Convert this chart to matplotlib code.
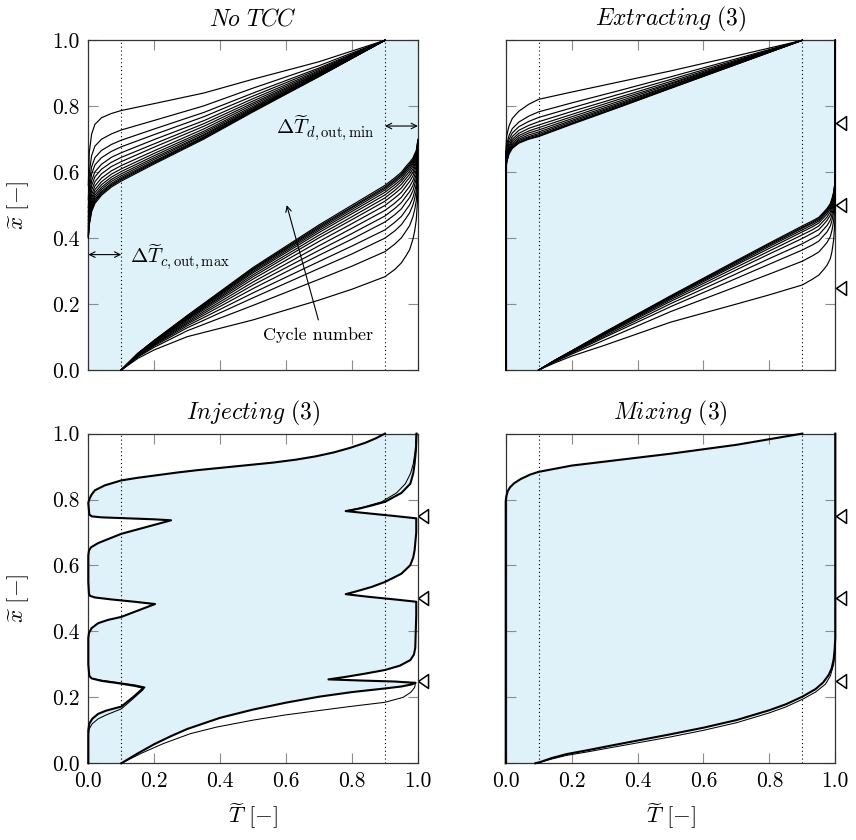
import numpy as np
import matplotlib
matplotlib.use("Agg")
import matplotlib.pyplot as plt

matplotlib.rcParams["font.family"] = "serif"
matplotlib.rcParams["font.serif"] = ["cmr10"]
matplotlib.rcParams["mathtext.fontset"] = "cm"
matplotlib.rcParams["axes.formatter.use_mathtext"] = True
matplotlib.rcParams["font.size"] = 15.5

fill_color = "#dff1f9"
ticks = [0.0, 0.2, 0.4, 0.6, 0.8, 1.0]
tick_labels = ["0.0", "0.2", "0.4", "0.6", "0.8", "1.0"]
titles = [r"$\mathit{No\ TCC}$", r"$\mathit{Extracting\ (3)}$",
          r"$\mathit{Injecting\ (3)}$", r"$\mathit{Mixing\ (3)}$"]
port_positions = [0.25, 0.5, 0.75]

# ---- No TCC: discharge profiles x(T), one row per cycle (first -> last)
notcc_up_T = [0.0, 0.003, 0.01, 0.02, 0.04, 0.07, 0.1, 0.2, 0.35, 0.5, 0.7, 0.9]
notcc_up_x = [
    [0.560, 0.660, 0.715, 0.745, 0.765, 0.778, 0.787, 0.808, 0.840, 0.882, 0.935, 1.0],
    [0.516, 0.599, 0.650, 0.679, 0.700, 0.716, 0.728, 0.757, 0.801, 0.855, 0.923, 1.0],
    [0.493, 0.567, 0.616, 0.644, 0.666, 0.684, 0.697, 0.731, 0.781, 0.840, 0.916, 1.0],
    [0.478, 0.547, 0.594, 0.622, 0.644, 0.663, 0.677, 0.714, 0.768, 0.831, 0.912, 1.0],
    [0.464, 0.528, 0.574, 0.601, 0.624, 0.645, 0.659, 0.699, 0.756, 0.823, 0.908, 1.0],
    [0.454, 0.514, 0.559, 0.586, 0.609, 0.630, 0.645, 0.686, 0.747, 0.816, 0.905, 1.0],
    [0.444, 0.501, 0.545, 0.571, 0.595, 0.617, 0.632, 0.676, 0.739, 0.810, 0.902, 1.0],
    [0.435, 0.488, 0.532, 0.558, 0.582, 0.604, 0.620, 0.665, 0.731, 0.805, 0.900, 1.0],
    [0.428, 0.478, 0.521, 0.547, 0.571, 0.594, 0.610, 0.657, 0.724, 0.800, 0.898, 1.0],
    [0.422, 0.470, 0.512, 0.538, 0.562, 0.585, 0.602, 0.650, 0.719, 0.796, 0.896, 1.0],
    [0.416, 0.463, 0.504, 0.530, 0.554, 0.578, 0.595, 0.644, 0.714, 0.793, 0.895, 1.0],
    [0.412, 0.457, 0.498, 0.523, 0.548, 0.572, 0.589, 0.639, 0.711, 0.790, 0.893, 1.0],
    [0.408, 0.451, 0.492, 0.517, 0.542, 0.566, 0.584, 0.634, 0.707, 0.788, 0.892, 1.0],
    [0.405, 0.447, 0.488, 0.513, 0.538, 0.562, 0.580, 0.631, 0.705, 0.786, 0.891, 1.0],
    [0.403, 0.444, 0.484, 0.510, 0.534, 0.559, 0.577, 0.628, 0.703, 0.785, 0.891, 1.0],
    [0.400, 0.440, 0.480, 0.505, 0.530, 0.555, 0.573, 0.625, 0.700, 0.783, 0.890, 1.0],
]
# charge profiles
notcc_low_T = [0.1, 0.15, 0.2, 0.3, 0.5, 0.7, 0.8, 0.9, 0.93, 0.95, 0.965, 0.975,
               0.985, 0.99, 0.995, 0.998, 1.0]
notcc_low_x = [
    [0.0, 0.035, 0.061, 0.101, 0.152, 0.212, 0.245, 0.283, 0.305, 0.325, 0.348, 0.365, 0.397, 0.420, 0.455, 0.500, 0.560],
    [0.0, 0.039, 0.069, 0.119, 0.196, 0.275, 0.315, 0.359, 0.382, 0.401, 0.423, 0.438, 0.465, 0.485, 0.513, 0.551, 0.599],
    [0.0, 0.041, 0.073, 0.128, 0.219, 0.308, 0.352, 0.400, 0.422, 0.441, 0.462, 0.477, 0.501, 0.519, 0.543, 0.578, 0.619],
    [0.0, 0.043, 0.076, 0.134, 0.234, 0.329, 0.376, 0.425, 0.448, 0.466, 0.487, 0.501, 0.523, 0.541, 0.563, 0.595, 0.632],
    [0.0, 0.044, 0.078, 0.139, 0.247, 0.348, 0.397, 0.449, 0.471, 0.489, 0.510, 0.523, 0.544, 0.561, 0.581, 0.611, 0.644],
    [0.0, 0.045, 0.080, 0.143, 0.258, 0.363, 0.414, 0.467, 0.490, 0.508, 0.528, 0.541, 0.560, 0.576, 0.594, 0.623, 0.653],
    [0.0, 0.046, 0.082, 0.147, 0.267, 0.377, 0.430, 0.484, 0.506, 0.524, 0.544, 0.557, 0.575, 0.590, 0.607, 0.634, 0.661],
    [0.0, 0.047, 0.084, 0.151, 0.276, 0.390, 0.444, 0.499, 0.522, 0.539, 0.559, 0.572, 0.589, 0.603, 0.619, 0.644, 0.669],
    [0.0, 0.047, 0.085, 0.154, 0.283, 0.401, 0.456, 0.512, 0.535, 0.552, 0.572, 0.584, 0.600, 0.614, 0.629, 0.653, 0.676],
    [0.0, 0.048, 0.086, 0.156, 0.289, 0.409, 0.465, 0.522, 0.545, 0.563, 0.582, 0.594, 0.610, 0.623, 0.636, 0.660, 0.681],
    [0.0, 0.048, 0.087, 0.158, 0.295, 0.417, 0.474, 0.531, 0.554, 0.572, 0.591, 0.603, 0.618, 0.631, 0.643, 0.666, 0.686],
    [0.0, 0.049, 0.088, 0.160, 0.299, 0.423, 0.481, 0.539, 0.562, 0.579, 0.599, 0.610, 0.625, 0.637, 0.649, 0.671, 0.689],
    [0.0, 0.049, 0.089, 0.162, 0.303, 0.428, 0.487, 0.546, 0.569, 0.586, 0.605, 0.616, 0.630, 0.643, 0.654, 0.676, 0.693],
    [0.0, 0.050, 0.089, 0.163, 0.306, 0.432, 0.492, 0.551, 0.574, 0.591, 0.610, 0.621, 0.635, 0.647, 0.658, 0.679, 0.695],
    [0.0, 0.050, 0.089, 0.164, 0.308, 0.436, 0.495, 0.555, 0.578, 0.595, 0.614, 0.625, 0.638, 0.651, 0.661, 0.681, 0.697],
    [0.0, 0.050, 0.090, 0.165, 0.311, 0.440, 0.500, 0.560, 0.583, 0.600, 0.619, 0.630, 0.643, 0.655, 0.665, 0.685, 0.700],
]

# ---- Extracting (3)
extr_up_T = [0.0, 0.0, 0.003, 0.01, 0.02, 0.04, 0.07, 0.1, 0.2, 0.35, 0.5, 0.7, 0.9]
extr_up_x = [
    [0.0, 0.660, 0.710, 0.740, 0.763, 0.785, 0.806, 0.821, 0.843, 0.875, 0.907, 0.953, 1.0],
    [0.0, 0.640, 0.683, 0.711, 0.732, 0.752, 0.770, 0.783, 0.810, 0.849, 0.889, 0.944, 1.0],
    [0.0, 0.631, 0.671, 0.699, 0.719, 0.738, 0.754, 0.766, 0.795, 0.838, 0.881, 0.940, 1.0],
    [0.0, 0.624, 0.662, 0.689, 0.708, 0.727, 0.742, 0.753, 0.784, 0.829, 0.875, 0.937, 1.0],
    [0.0, 0.619, 0.655, 0.681, 0.700, 0.718, 0.733, 0.743, 0.775, 0.823, 0.870, 0.935, 1.0],
    [0.0, 0.614, 0.649, 0.675, 0.694, 0.711, 0.725, 0.735, 0.768, 0.817, 0.867, 0.933, 1.0],
    [0.0, 0.611, 0.644, 0.670, 0.688, 0.705, 0.719, 0.728, 0.762, 0.812, 0.863, 0.932, 1.0],
    [0.0, 0.607, 0.640, 0.666, 0.683, 0.700, 0.713, 0.722, 0.757, 0.808, 0.861, 0.930, 1.0],
    [0.0, 0.605, 0.636, 0.662, 0.679, 0.696, 0.708, 0.717, 0.753, 0.805, 0.858, 0.929, 1.0],
    [0.0, 0.603, 0.634, 0.659, 0.676, 0.692, 0.705, 0.713, 0.749, 0.802, 0.856, 0.928, 1.0],
    [0.0, 0.601, 0.631, 0.657, 0.674, 0.690, 0.702, 0.710, 0.747, 0.800, 0.855, 0.927, 1.0],
    [0.0, 0.600, 0.630, 0.655, 0.672, 0.688, 0.700, 0.708, 0.745, 0.799, 0.854, 0.927, 1.0],
]
extr_low_T = [0.1, 0.15, 0.2, 0.3, 0.5, 0.7, 0.8, 0.9, 0.93, 0.95, 0.965, 0.975,
              0.985, 0.99, 0.995, 0.998, 1.0, 1.0]
extr_low_x = [
    [0.0, 0.022, 0.042, 0.075, 0.145, 0.200, 0.228, 0.258, 0.275, 0.288, 0.305, 0.318, 0.338, 0.360, 0.395, 0.440, 0.490, 1.0],
    [0.0, 0.025, 0.048, 0.091, 0.177, 0.253, 0.291, 0.330, 0.346, 0.358, 0.375, 0.387, 0.405, 0.424, 0.453, 0.489, 0.530, 1.0],
    [0.0, 0.027, 0.051, 0.099, 0.192, 0.278, 0.321, 0.364, 0.379, 0.391, 0.408, 0.419, 0.437, 0.454, 0.481, 0.512, 0.549, 1.0],
    [0.0, 0.028, 0.053, 0.103, 0.201, 0.292, 0.338, 0.383, 0.399, 0.410, 0.427, 0.438, 0.455, 0.472, 0.497, 0.525, 0.560, 1.0],
    [0.0, 0.028, 0.055, 0.107, 0.208, 0.304, 0.352, 0.399, 0.415, 0.426, 0.442, 0.454, 0.470, 0.486, 0.510, 0.536, 0.569, 1.0],
    [0.0, 0.029, 0.056, 0.109, 0.213, 0.312, 0.361, 0.410, 0.425, 0.437, 0.453, 0.464, 0.480, 0.496, 0.518, 0.544, 0.575, 1.0],
    [0.0, 0.029, 0.056, 0.111, 0.217, 0.319, 0.369, 0.419, 0.434, 0.446, 0.462, 0.473, 0.488, 0.504, 0.526, 0.550, 0.580, 1.0],
    [0.0, 0.030, 0.057, 0.112, 0.220, 0.323, 0.375, 0.425, 0.440, 0.452, 0.468, 0.479, 0.494, 0.510, 0.531, 0.554, 0.583, 1.0],
    [0.0, 0.030, 0.057, 0.113, 0.222, 0.327, 0.379, 0.430, 0.445, 0.456, 0.472, 0.483, 0.498, 0.514, 0.534, 0.557, 0.586, 1.0],
    [0.0, 0.030, 0.058, 0.114, 0.223, 0.329, 0.382, 0.433, 0.448, 0.460, 0.476, 0.487, 0.502, 0.517, 0.537, 0.560, 0.588, 1.0],
    [0.0, 0.030, 0.058, 0.115, 0.225, 0.332, 0.385, 0.437, 0.452, 0.463, 0.479, 0.490, 0.505, 0.520, 0.540, 0.562, 0.590, 1.0],
]

# ---- Injecting (3): (x, T) points, converged cycle and first cycle
inj_up = [
    (0.000, 0.000), (0.100, 0.000), (0.120, 0.003), (0.135, 0.012), (0.150, 0.030),
    (0.160, 0.055), (0.172, 0.100), (0.200, 0.135), (0.222, 0.160), (0.229, 0.167),
    (0.235, 0.140), (0.243, 0.090), (0.250, 0.040), (0.2575, 0.010), (0.265, 0.003),
    (0.300, 0.000), (0.380, 0.000), (0.395, 0.002), (0.410, 0.010), (0.425, 0.030),
    (0.435, 0.060), (0.444, 0.100), (0.465, 0.155), (0.483, 0.2025), (0.490, 0.140),
    (0.497, 0.070), (0.503, 0.020), (0.508, 0.005), (0.515, 0.002), (0.550, 0.000),
    (0.630, 0.000), (0.645, 0.002), (0.655, 0.008), (0.668, 0.030), (0.680, 0.060),
    (0.696, 0.100), (0.715, 0.170), (0.737, 0.251), (0.740, 0.200), (0.743, 0.120),
    (0.746, 0.040), (0.749, 0.010), (0.755, 0.003), (0.790, 0.000), (0.803, 0.004),
    (0.815, 0.010), (0.828, 0.020), (0.843, 0.050), (0.858, 0.100), (0.866, 0.150),
    (0.874, 0.210), (0.882, 0.270), (0.889, 0.330), (0.896, 0.400), (0.904, 0.480),
    (0.912, 0.560), (0.921, 0.630), (0.931, 0.690), (0.943, 0.745), (0.957, 0.795),
    (0.972, 0.840), (0.986, 0.873), (1.000, 0.900),
]
inj_up_first = [
    (0.000, 0.000), (0.085, 0.000), (0.105, 0.003), (0.120, 0.012), (0.135, 0.030),
    (0.147, 0.055), (0.165, 0.100), (0.195, 0.135), (0.222, 0.165), (0.231, 0.172),
    (0.237, 0.145), (0.245, 0.090), (0.252, 0.040), (0.2575, 0.010),
]
inj_low = [
    (0.000, 0.100), (0.030, 0.150), (0.058, 0.200), (0.082, 0.250), (0.104, 0.300),
    (0.138, 0.400), (0.163, 0.500), (0.184, 0.600), (0.202, 0.700), (0.216, 0.800),
    (0.227, 0.900), (0.233, 0.950), (0.239, 0.980), (0.244, 0.993), (0.248, 0.930),
    (0.251, 0.830), (0.2545, 0.7286), (0.262, 0.780), (0.272, 0.840), (0.283, 0.900),
    (0.296, 0.945), (0.313, 0.977), (0.330, 0.988), (0.350, 0.992), (0.450, 0.995),
    (0.490, 0.995), (0.497, 0.930), (0.505, 0.850), (0.513, 0.781), (0.522, 0.815),
    (0.535, 0.860), (0.550, 0.900), (0.575, 0.950), (0.601, 0.977), (0.625, 0.986),
    (0.646, 0.990), (0.700, 0.995), (0.743, 0.995), (0.750, 0.930), (0.757, 0.860),
    (0.765, 0.781), (0.772, 0.820), (0.782, 0.860), (0.793, 0.900), (0.820, 0.950),
    (0.848, 0.977), (0.880, 0.986), (0.909, 0.990), (0.950, 0.994), (1.000, 0.996),
]
inj_low_first = [
    (0.000, 0.100), (0.030, 0.160), (0.060, 0.228), (0.090, 0.310), (0.110, 0.390),
    (0.131, 0.500), (0.147, 0.600), (0.160, 0.700), (0.173, 0.800), (0.185, 0.900),
    (0.200, 0.955), (0.215, 0.978), (0.230, 0.990), (0.245, 0.993),
]
inj_low_first_top = [
    (0.765, 0.781), (0.777, 0.835), (0.793, 0.890), (0.820, 0.935), (0.848, 0.962),
    (0.880, 0.978), (0.909, 0.986), (0.950, 0.992), (1.000, 0.995),
]

# ---- Mixing (3): (T, x) points
mix_up_T = [0.0, 0.0, 0.002, 0.006, 0.013, 0.025, 0.045, 0.075, 0.1, 0.2, 0.35, 0.5, 0.7, 0.9]
mix_up_x = [0.0, 0.795, 0.810, 0.825, 0.837, 0.849, 0.862, 0.876, 0.884, 0.903, 0.921, 0.939, 0.966, 1.0]
mix_low_T = [0.09, 0.105, 0.14, 0.185, 0.25, 0.316, 0.4, 0.5, 0.6, 0.7, 0.8, 0.85, 0.9,
             0.94, 0.963, 0.98, 0.989, 0.995, 0.998, 1.0, 1.0]
mix_low_x = [0.0, 0.004, 0.016, 0.028, 0.040, 0.053, 0.069, 0.088, 0.108, 0.131, 0.161,
             0.179, 0.202, 0.225, 0.245, 0.268, 0.288, 0.315, 0.345, 0.380, 1.0]
mix_low_first_T = [0.09, 0.105, 0.14, 0.185, 0.25, 0.316, 0.4, 0.5, 0.6, 0.7, 0.8, 0.85, 0.9,
                   0.94, 0.97, 0.985, 0.995, 0.999, 1.0, 1.0]
mix_low_first_x = [0.0, 0.003, 0.013, 0.024, 0.035, 0.047, 0.062, 0.080, 0.100, 0.123, 0.153,
                   0.171, 0.194, 0.216, 0.240, 0.265, 0.300, 0.335, 0.370, 1.0]


def style_axes(ax, title, show_x, show_y):
    ax.set_xlim(0, 1)
    ax.set_ylim(0, 1)
    ax.set_xticks(ticks)
    ax.set_yticks(ticks)
    ax.set_xticklabels(tick_labels if show_x else [])
    ax.set_yticklabels(tick_labels if show_y else [])
    ax.tick_params(direction="in", length=7, width=0.8, color="0.55",
                   top=True, right=True, labelsize=15.5, pad=6)
    for s in ax.spines.values():
        s.set_color("0.2")
        s.set_linewidth(0.9)
    for t in [0.1, 0.9]:
        ax.axvline(t, color="k", lw=0.8, ls=(0, (1, 2.5)), zorder=2)
    ax.set_title(title, fontsize=17, pad=10.5)
    if show_x:
        ax.set_xlabel(r"$\widetilde{T}\ [-]$", fontsize=16.5)
        ax.xaxis.set_label_coords(0.5, -0.115)
    if show_y:
        ax.set_ylabel(r"$\widetilde{x}\ [-]$", fontsize=16.5)
        ax.yaxis.set_label_coords(-0.175, 0.5)


def add_ports(ax):
    tri = [(-0.4, 0.0), (0.4, 0.55), (0.4, -0.55), (-0.4, 0.0)]
    ax.plot(np.full(len(port_positions), 1.0167), port_positions, ls="none",
            marker=tri, ms=10, mfc="none", mec="k", mew=1.1, clip_on=False)


fig = plt.figure(figsize=(8.56, 8.40), dpi=100)
w = 329.6 / 856
h = 329.7 / 840
ax = [None] * 4
ax[0] = fig.add_axes([88.3 / 856, 1 - 370.0 / 840, w, h])
ax[1] = fig.add_axes([505.7 / 856, 1 - 370.0 / 840, w, h])
ax[2] = fig.add_axes([88.3 / 856, 1 - 763.3 / 840, w, h])
ax[3] = fig.add_axes([505.7 / 856, 1 - 763.3 / 840, w, h])

line_kw = dict(color="k", lw=0.85, zorder=3, clip_on=False)

# No TCC
a = ax[0]
a.fill([0.0] + notcc_up_T + [1.0] + notcc_low_T[::-1],
       [0.0] + notcc_up_x[-1] + [1.0] + notcc_low_x[-1][::-1],
       color=fill_color, lw=0, zorder=1)
for xs in notcc_up_x:
    a.plot(notcc_up_T, xs, **line_kw)
for xs in notcc_low_x:
    a.plot(notcc_low_T, xs, **line_kw)
arr = dict(arrowstyle="<->", lw=0.8, color="k", shrinkA=0, shrinkB=0,
           mutation_scale=10)
a.annotate("", xy=(0.0, 0.35), xytext=(0.1, 0.35), arrowprops=arr, zorder=4)
a.text(0.127, 0.324, r"$\Delta\widetilde{T}_{c,\mathrm{out,max}}$", fontsize=15,
       ha="left", va="baseline")
a.annotate("", xy=(0.9, 0.74), xytext=(1.0, 0.74), arrowprops=arr, zorder=4)
a.text(0.868, 0.715, r"$\Delta\widetilde{T}_{d,\mathrm{out,min}}$", fontsize=15,
       ha="right", va="baseline")
a.annotate("", xy=(0.602, 0.50), xytext=(0.698, 0.152),
           arrowprops=dict(arrowstyle="->", lw=0.8, color="k", shrinkA=0,
                           shrinkB=0, mutation_scale=10))
a.text(0.698, 0.091, "Cycle number", fontsize=13, ha="center", va="baseline")
style_axes(a, titles[0], False, True)

# Extracting
a = ax[1]
a.fill(extr_up_T + extr_low_T[::-1], extr_up_x[-1] + extr_low_x[-1][::-1],
       color=fill_color, lw=0, zorder=1)
for xs in extr_up_x:
    a.plot(extr_up_T, xs, **line_kw)
for xs in extr_low_x:
    a.plot(extr_low_T, xs, **line_kw)
add_ports(a)
style_axes(a, titles[1], False, False)

# Injecting
a = ax[2]
up = np.array(inj_up)
low = np.array(inj_low)
a.fill(np.concatenate([up[:, 1], low[::-1, 1]]), np.concatenate([up[:, 0], low[::-1, 0]]),
       color=fill_color, lw=0, zorder=1)
for pts in [inj_up_first, inj_low_first, inj_low_first_top]:
    p = np.array(pts)
    a.plot(p[:, 1], p[:, 0], color="k", lw=0.75, zorder=3, clip_on=False)
a.plot(up[:, 1], up[:, 0], color="k", lw=1.5, zorder=3, clip_on=False)
a.plot(low[:, 1], low[:, 0], color="k", lw=1.5, zorder=3, clip_on=False)
add_ports(a)
style_axes(a, titles[2], True, True)

# Mixing
a = ax[3]
a.fill(mix_up_T + mix_low_T[::-1], mix_up_x + mix_low_x[::-1],
       color=fill_color, lw=0, zorder=1)
a.plot(mix_low_first_T, mix_low_first_x, color="k", lw=0.75, zorder=3, clip_on=False)
a.plot(mix_up_T, mix_up_x, color="k", lw=1.5, zorder=3, clip_on=False)
a.plot(mix_low_T, mix_low_x, color="k", lw=1.5, zorder=3, clip_on=False)
add_ports(a)
style_axes(a, titles[3], True, False)

fig.savefig("out.png", dpi=100)
